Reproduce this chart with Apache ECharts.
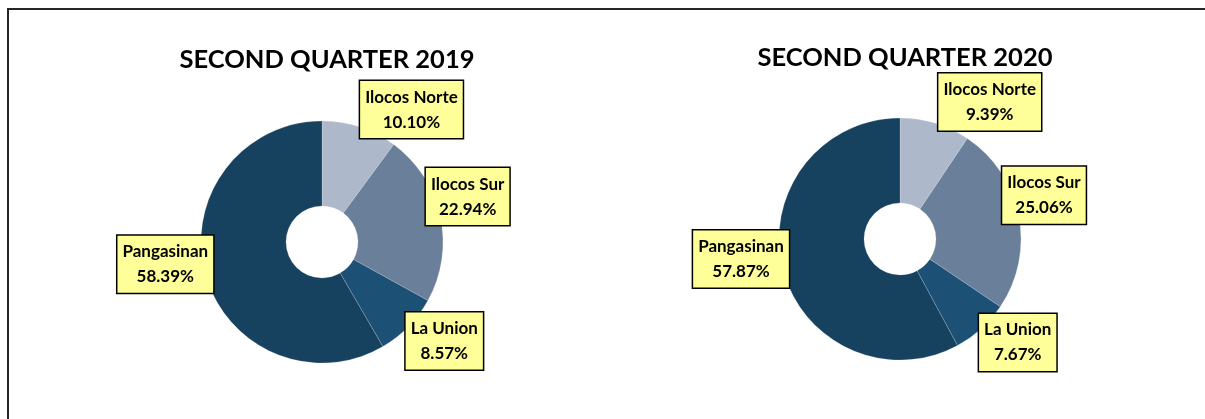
<!DOCTYPE html>
<html>
<head>
<meta charset="utf-8">
<script src="https://cdn.jsdelivr.net/npm/echarts@6/dist/echarts.min.js"></script>
<style>
  html, body { margin: 0; padding: 0; background: #fff; overflow: hidden; }
  .frame { position: absolute; left: 7px; top: 8px; width: 1300px; height: 500px;
           border-top: 2px solid #262626; border-left: 2px solid #262626; }
  #main { position: absolute; left: 0; top: 0; width: 1205px; height: 419px; }
</style>
</head>
<body>
<div class="frame"></div>
<div id="main"></div>
<script>
var provinces = ['Ilocos Norte', 'Ilocos Sur', 'La Union', 'Pangasinan'];
var share2019 = [10.10, 22.94, 8.57, 58.39];
var share2020 = [9.39, 25.06, 7.67, 57.87];
var titles = ['SECOND QUARTER 2019', 'SECOND QUARTER 2020'];
var sliceColors = ['#adb9ca', '#6a7f99', '#1d5075', '#17425f'];

// label nudges, from the middle of each ring slice out to the yellow box
var nudge2019 = [[64, -55], [66, -28], [64, 42], [-78, 1]];
var nudge2020 = [[66, -59], [64, -28], [63, 43], [-80, 0]];

var fontFam = 'Lato, "Open Sans", sans-serif';

function makeSeries(vals, center, nudge) {
    return {
        type: 'pie',
        center: center,
        radius: [36, 121],
        startAngle: 90,
        clockwise: true,
        silent: true,
        itemStyle: { borderColor: 'rgba(255,255,255,0.35)', borderWidth: 0.5 },
        data: provinces.map(function (p, i) {
            return { name: p, value: vals[i], itemStyle: { color: sliceColors[i] } };
        }),
        label: {
            show: true,
            position: 'inside',
            formatter: function (p) { return p.name + '\n' + p.value.toFixed(2) + '%'; },
            color: '#000',
            fontFamily: fontFam,
            fontWeight: 'bold',
            fontSize: 17,
            lineHeight: 25,
            backgroundColor: '#ffff99',
            borderColor: '#000',
            borderWidth: 1.5,
            padding: [4, 5, 3, 5],
            align: 'center'
        },
        labelLine: { show: false },
        labelLayout: function (params) {
            var n = nudge[params.dataIndex];
            return { dx: n[0], dy: n[1] };
        }
    };
}

var chart = echarts.init(document.getElementById('main'));
chart.setOption({
    animation: false,
    title: [
        { text: titles[0], left: 322, top: 42, textAlign: 'center',
          textStyle: { fontFamily: fontFam, fontWeight: 'bold', fontSize: 25.5, color: '#000' } },
        { text: titles[1], left: 900, top: 40, textAlign: 'center',
          textStyle: { fontFamily: fontFam, fontWeight: 'bold', fontSize: 25.5, color: '#000' } }
    ],
    series: [
        makeSeries(share2019, [322, 242], nudge2019),
        makeSeries(share2020, [900, 239], nudge2020)
    ]
});
</script>
</body>
</html>
